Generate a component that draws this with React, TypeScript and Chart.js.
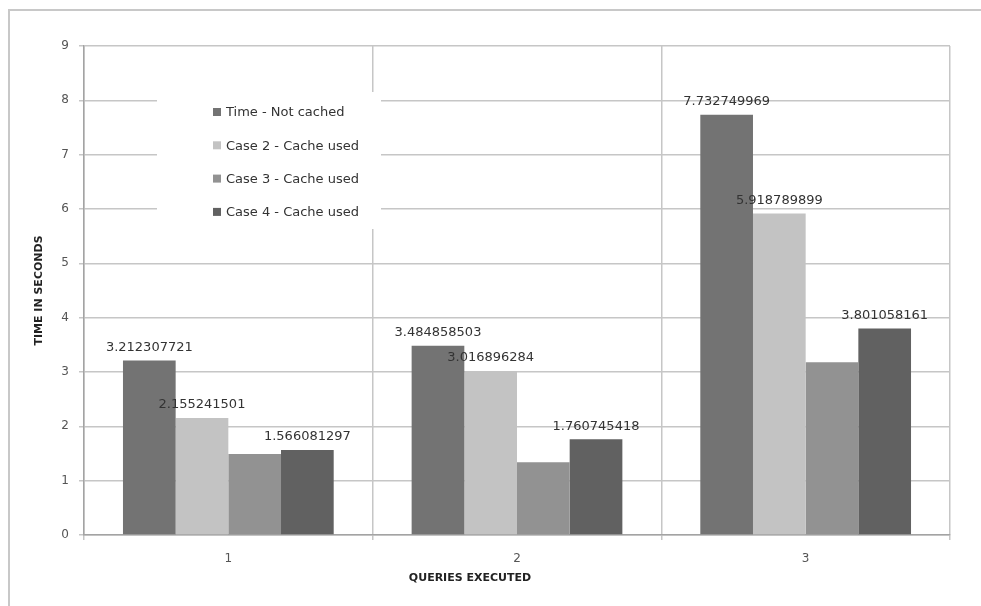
import React, { useEffect, useRef } from "react";
import { Chart, registerables } from "chart.js";

Chart.register(...registerables);

// Query timings (seconds) per executed query
const categories = ["1", "2", "3"];
const seriesNames = [
  "Time - Not cached",
  "Case 2 - Cache used",
  "Case 3 - Cache used",
  "Case 4 - Cache used",
];
const notCached = [3.212307721, 3.484858503, 7.732749969];
const case2Cached = [2.155241501, 3.016896284, 5.918789899];
const case3Cached = [1.49, 1.34, 3.18];
const case4Cached = [1.566081297, 1.760745418, 3.801058161];
const seriesColors = ["#737373", "#c3c3c3", "#929292", "#616161"];
// series whose values are printed above the bars
const labelledSeries = [0, 1, 3];
const yMin = 0;
const yMax = 9;
const yStep = 1;

const FONT = "'DejaVu Sans', 'Liberation Sans', sans-serif";

// Light frame along the top and left edges of the chart
const chartFrame = {
  id: "chartFrame",
  beforeDraw(chart: Chart) {
    const ctx = chart.ctx;
    ctx.save();
    ctx.fillStyle = "#ffffff";
    ctx.fillRect(0, 0, chart.width, chart.height);
    ctx.fillStyle = "#c8c8c8";
    ctx.fillRect(8, 9, 2, chart.height - 9);
    ctx.fillRect(8, 9, chart.width - 8, 2);
    ctx.restore();
  },
};

// White legend panel sitting over the grid, top-left of the plot
const legendPanel = {
  id: "legendPanel",
  beforeDatasetsDraw(chart: Chart) {
    const ctx = chart.ctx;
    const left = 157;
    const top = 92;
    ctx.save();
    ctx.fillStyle = "#ffffff";
    ctx.fillRect(left, top, 224, 137);
    ctx.font = `13px ${FONT}`;
    ctx.textBaseline = "middle";
    ctx.textAlign = "left";
    chart.data.datasets.forEach((ds, i) => {
      const cy = 113 + i * 33.3;
      ctx.fillStyle = ds.backgroundColor as string;
      ctx.fillRect(213, cy - 5, 8, 8);
      ctx.fillStyle = "#333333";
      ctx.fillText(ds.label as string, 226, cy);
    });
    ctx.restore();
  },
};

// Value labels above the bars
const valueLabels = {
  id: "valueLabels",
  afterDatasetsDraw(chart: Chart) {
    const ctx = chart.ctx;
    ctx.save();
    ctx.font = `13px ${FONT}`;
    ctx.fillStyle = "#333333";
    ctx.textAlign = "center";
    ctx.textBaseline = "middle";
    labelledSeries.forEach((di) => {
      const meta = chart.getDatasetMeta(di);
      const values = chart.data.datasets[di].data as number[];
      meta.data.forEach((bar: any, i: number) => {
        ctx.fillText(String(values[i]), bar.x, bar.y - 13);
      });
    });
    ctx.restore();
  },
};

// Category axis title
const xAxisTitle = {
  id: "xAxisTitle",
  afterDraw(chart: Chart) {
    const ctx = chart.ctx;
    ctx.save();
    ctx.font = `bold 11px ${FONT}`;
    ctx.fillStyle = "#222222";
    ctx.textAlign = "center";
    ctx.textBaseline = "middle";
    ctx.fillText("QUERIES EXECUTED", 470, 578);
    ctx.restore();
  },
};

export default function App() {
  const canvasRef = useRef<HTMLCanvasElement | null>(null);

  useEffect(() => {
    if (!canvasRef.current) return;
    const seriesValues = [notCached, case2Cached, case3Cached, case4Cached];
    const chart = new Chart(canvasRef.current, {
      type: "bar",
      data: {
        labels: categories,
        datasets: seriesValues.map((vals, i) => ({
          label: seriesNames[i],
          data: vals,
          backgroundColor: seriesColors[i],
          borderWidth: 0,
          barPercentage: 1,
          categoryPercentage: 0.73,
        })),
      },
      options: {
        responsive: false,
        animation: false,
        devicePixelRatio: 1,
        layout: { padding: { top: 46, left: 0, right: 31, bottom: 0 } },
        plugins: {
          legend: { display: false },
          tooltip: { enabled: false },
        },
        scales: {
          x: {
            afterFit(scale: any) {
              scale.height = 71;
            },
            grid: {
              offset: true,
              color: "#c6c6c6",
              lineWidth: 1.5,
              tickLength: 5,
            },
            border: { color: "#a3a3a3", width: 1.5 },
            ticks: {
              color: "#555555",
              font: { family: FONT, size: 12 },
              padding: 12,
            },
          },
          y: {
            min: yMin,
            max: yMax,
            afterFit(scale: any) {
              scale.width = 84;
            },
            ticks: {
              stepSize: yStep,
              color: "#555555",
              font: { family: FONT, size: 12 },
              padding: 10,
            },
            grid: {
              color: "#c6c6c6",
              lineWidth: 1.5,
              tickLength: 5,
            },
            border: { color: "#a3a3a3", width: 1.5 },
            title: {
              display: true,
              text: "TIME IN SECONDS",
              color: "#222222",
              font: { family: FONT, size: 11, weight: "bold" },
              padding: { top: 33, bottom: 0 },
            },
          },
        },
      },
      plugins: [chartFrame, legendPanel, valueLabels, xAxisTitle],
    });
    return () => chart.destroy();
  }, []);

  return (
    <div
      style={{
        position: "absolute",
        left: 0,
        top: 0,
        width: 981,
        height: 606,
        overflow: "hidden",
      }}
    >
      <canvas
        ref={canvasRef}
        width={981}
        height={606}
        style={{ display: "block", width: 981, height: 606 }}
      />
    </div>
  );
}
